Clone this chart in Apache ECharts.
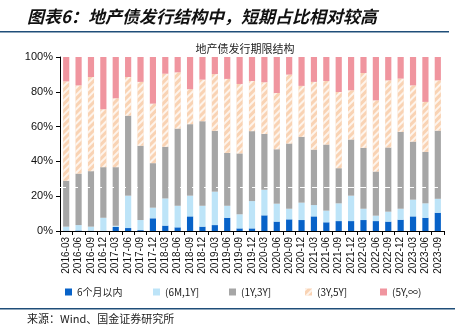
<!DOCTYPE html>
<html>
<head>
<meta charset="utf-8">
<script src="https://cdn.jsdelivr.net/npm/echarts@6/dist/echarts.min.js"></script>
<style>
html,body{margin:0;padding:0;background:#fff;}
#c{width:455px;height:336px;}
</style>
</head>
<body>
<div id="c"></div>
<script>
var categories = ['2016-03','2016-06','2016-09','2016-12','2017-03','2017-06','2017-09','2017-12',
  '2018-03','2018-06','2018-09','2018-12','2019-03','2019-06','2019-09','2019-12',
  '2020-03','2020-06','2020-09','2020-12','2021-03','2021-06','2021-09','2021-12',
  '2022-03','2022-06','2022-09','2022-12','2023-03','2023-06','2023-09'];
var seriesNames = ['6个月以内','(6M,1Y]','(1Y,3Y]','(3Y,5Y]','(5Y,∞)'];
var within6M = [0.2,0.3,0.2,0.1,2.3,1.7,0.5,7.3,3.1,2.1,8.4,2.5,3.4,7.6,1.5,1.5,9.0,5.4,6.7,6.3,8.4,5.0,5.7,5.7,6.3,5.7,5.4,6.5,8.4,7.6,10.5];
var m6to1Y = [2.3,3.1,2.3,7.5,0.7,18.6,5.8,6.1,15.6,12.4,11.9,12.0,19.2,6.9,8.1,15.7,14.7,10.3,6.1,10.0,6.5,6.7,10.2,14.6,6.5,3.1,5.7,6.3,9.6,8.3,8.0];
var y1to3 = [26.4,29.6,31.9,29.1,33.7,46.0,42.7,25.6,29.7,44.4,41.1,48.6,35.0,30.4,35.0,40.2,32.1,31.3,37.5,37.8,31.9,38.0,20.2,32.3,35.0,25.4,36.9,44.2,33.4,29.6,39.2];
var y3to5 = [57.1,50.7,54.1,33.3,39.6,22.2,36.7,34.2,42.0,32.3,20.1,23.9,32.6,42.5,39.9,28.8,29.7,32.3,39.6,29.3,38.9,36.5,43.8,28.3,43.0,40.9,38.6,30.6,32.3,28.7,28.9];
var over5Y = [14.0,16.3,11.5,30.0,23.7,11.5,14.3,26.8,9.6,8.8,18.5,13.0,9.8,12.6,15.5,13.8,14.5,20.7,10.1,16.6,14.3,13.8,20.1,19.1,9.2,24.9,13.4,12.4,16.3,25.8,13.4];
var yTicks = [0,20,40,60,80,100];

var colors = ['#0762C8','#BDE4F8','#A6A6A6','#F9D3B4','#F0959F'];
var dataList = [within6M, m6to1Y, y1to3, y3to5, over5Y];
var font = '"Liberation Sans", Arial, sans-serif';
var cjk = '"Noto Sans CJK SC", sans-serif';
var legendLeft = [60, 148, 224, 300, 375];

var series = seriesNames.map(function(n, i){
  var s = {
    name: n, type: 'bar', stack: 'total', barWidth: '50%',
    data: dataList[i],
    itemStyle: {color: colors[i]}
  };
  if (i === 3) {
    s.itemStyle.decal = {
      symbol: 'rect', color: 'rgba(255,255,255,0.75)',
      dashArrayX: [1, 0], dashArrayY: [2, 3], rotation: -Math.PI / 4
    };
  }
  if (i === 4) {
    s.markLine = {
      silent: true, symbol: 'none', label: {show: false},
      lineStyle: {color: '#fff', type: [6, 6], width: 1},
      data: [{yAxis: 25}], z: 10
    };
  }
  return s;
});

var legends = seriesNames.map(function(n, i){
  return {
    data: [n], left: legendLeft[i], top: 282, icon: 'rect', itemWidth: 7, itemHeight: 7,
    textStyle: {fontFamily: cjk, fontSize: 10, color: '#222'}
  };
});

var chart = echarts.init(document.getElementById('c'), null, {renderer: 'canvas'});
chart.setOption({
  animation: false,
  backgroundColor: '#fff',
  title: {
    text: '地产债发行期限结构', left: 240, top: 38, textAlign: 'center',
    textStyle: {fontFamily: cjk, fontSize: 11, fontWeight: 'normal', color: '#222'}
  },
  graphic: [
    {type: 'text', left: 27, top: 8, style: {text: '图表6：地产债发行结构中，短期占比相对较高', font: 'italic bold 17px "Noto Sans CJK SC", sans-serif', fill: '#111'}},
    {type: 'rect', shape: {x: 0, y: 31, width: 449, height: 1.5}, style: {fill: '#1F4E79'}},
    {type: 'rect', shape: {x: 0, y: 308, width: 455, height: 1.5}, style: {fill: '#1F4E79'}},
    {type: 'text', left: 27, top: 313, style: {text: '来源：Wind、国金证券研究所', font: '11px "Noto Sans CJK SC", sans-serif', fill: '#222'}}
  ],
  legend: legends,
  grid: {left: 60, right: 11, top: 57, bottom: 105, containLabel: false},
  xAxis: {
    type: 'category', data: categories,
    axisLine: {lineStyle: {color: '#000'}},
    axisTick: {show: true, alignWithLabel: false, length: 4, lineStyle: {color: '#000'}},
    axisLabel: {rotate: 90, interval: 0, fontFamily: font, fontSize: 10, color: '#111', margin: 6}
  },
  yAxis: {
    type: 'value', min: 0, max: 100, interval: 20,
    axisLine: {show: true, lineStyle: {color: '#000'}},
    axisTick: {show: true, inside: false, length: 4, lineStyle: {color: '#000'}},
    splitLine: {show: false},
    axisLabel: {formatter: '{value}%', fontFamily: font, fontSize: 11, color: '#111', margin: 7}
  },
  series: series
});
</script>
</body>
</html>
